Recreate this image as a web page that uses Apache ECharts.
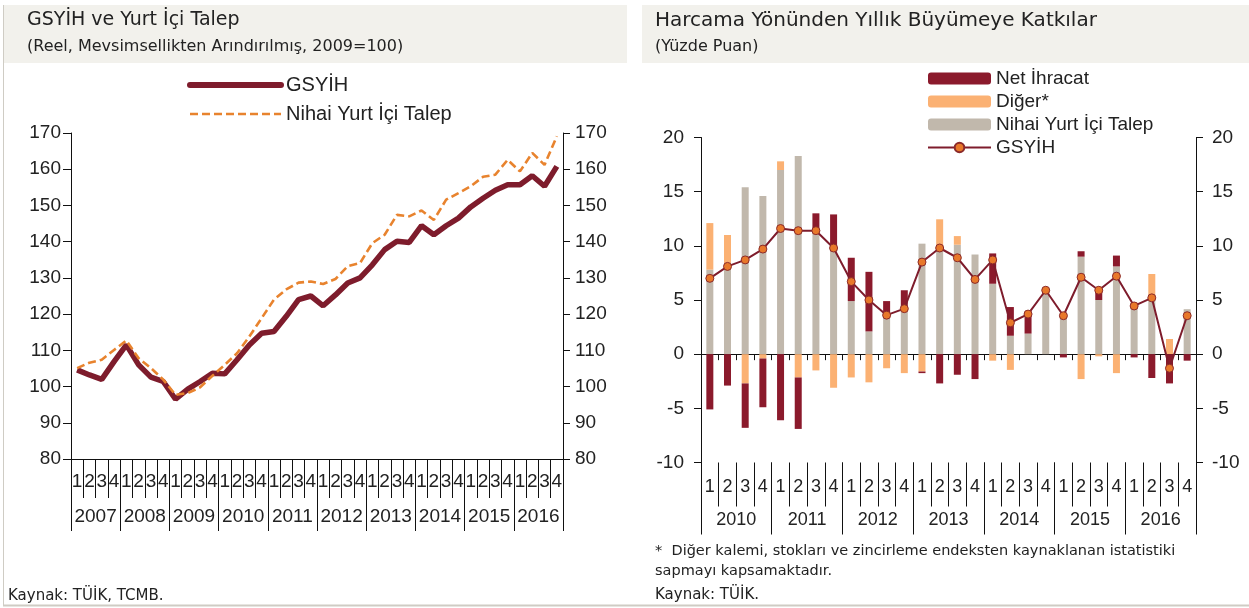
<!DOCTYPE html>
<html><head><meta charset="utf-8">
<script src="https://cdn.jsdelivr.net/npm/echarts@6/dist/echarts.min.js"></script>
<style>html,body{margin:0;padding:0;background:#fff}#c{width:1249px;height:608px}</style>
</head><body><div id="c"></div>
<script>
// ---------- DATA ----------
const leftYears = ['2007','2008','2009','2010','2011','2012','2013','2014','2015','2016'];
const rightYears = ['2010','2011','2012','2013','2014','2015','2016'];
const quarterLabels = ['1','2','3','4'];
const leftYTicks = [80, 170, 10];   // min, max, step
const rightYTicks = [-10, 20, 5];

// Left: real, seasonally adjusted index (2009=100)
const gsyihIndex = [104.6,103.2,102.0,106.9,111.5,106.0,102.6,101.4,96.5,99.3,
  101.4,103.7,103.5,107.4,111.5,114.7,115.2,119.4,124.0,125.0,
  122.3,125.3,128.6,130.0,133.6,137.8,140.1,139.8,144.4,141.9,
  144.4,146.5,149.6,152.0,154.2,155.7,155.7,158.2,155.3,160.8];
const talepIndex = [105.1,106.6,107.4,110.1,112.7,107.8,105.1,101.9,97.7,98.2,
  99.8,103.0,106.0,109.2,113.8,118.9,124.0,126.8,128.7,129.0,
  128.3,129.7,133.2,134.1,139.6,141.9,147.4,147.0,148.6,146.0,
  151.6,153.4,155.3,157.9,158.5,162.6,159.4,164.5,161.2,169.1];

// Right: contributions to annual growth (percentage points)
const talepContrib = [7.8,8.4,15.4,14.6,17.0,18.3,11.5,9.5,4.9,2.1,
  3.8,4.1,10.2,9.9,10.1,9.2,6.5,1.7,1.9,5.9,
  3.8,9.0,5.0,8.1,4.3,5.2,0.0,4.15];
const digerContrib = [4.3,2.6,-2.7,-0.4,0.8,-2.15,-1.5,-3.1,-2.15,-2.6,
  -1.3,-1.75,-1.6,2.55,0.8,0.0,-0.6,-1.45,0.0,0.0,
  0.0,-2.3,-0.2,-1.75,0.45,2.2,1.4,0.0];
const netIhracat = [-5.1,-2.9,-4.1,-4.5,-6.1,-4.75,1.5,3.4,4.0,5.5,
  1.1,1.8,-0.15,-2.7,-1.9,-2.3,2.8,2.65,1.95,0.0,
  -0.3,0.5,1.1,1.0,-0.3,-2.2,-2.7,-0.6];
const gsyihGrowth = [7.0,8.1,8.7,9.7,11.6,11.4,11.4,9.8,6.7,5.0,
  3.6,4.2,8.5,9.8,8.9,6.9,8.7,2.9,3.7,5.9,
  3.55,7.1,5.9,7.2,4.45,5.2,-1.3,3.55];

// ---------- BUILD ----------
function quarters(years){const out=[];years.forEach(y=>quarterLabels.forEach(q=>out.push(y+'-'+q)));return out;}
const leftCats = quarters(leftYears);
const rightCats = quarters(rightYears);
const qFmt = v => v.split('-')[1];

const AX = '#111';
const FONT = 'Liberation Sans, Arial, sans-serif';
const TFONT = 'DejaVu Sans, sans-serif';
const C_RED = '#7e1c2c', C_ORANGE = '#e8832e';
const C_BAR_RED = '#8b1a2c', C_BAR_OR = '#fbb173', C_BAR_GR = '#c1b8ac';

function yAx(grid, pos, t, labelMargin, tickLen){
  return {type:'value', gridIndex:grid, position:pos, min:t[0], max:t[1], interval:t[2],
    axisLine:{show:true, onZero:false, lineStyle:{color:AX,width:1}},
    axisTick:{show:true, length:tickLen, lineStyle:{color:AX}},
    splitLine:{show:false},
    axisLabel:{color:'#222', fontSize:19, fontFamily:FONT, margin:labelMargin}};
}

const chart = echarts.init(document.getElementById('c'), null, {renderer:'canvas'});
chart.setOption({
  animation:false,
  backgroundColor:'#fff',
  graphic:[
    {type:'rect', shape:{x:4,y:5,width:623,height:58}, style:{fill:'#f2f1ec'}, silent:true, z:-10},
    {type:'rect', shape:{x:642,y:5,width:607,height:58}, style:{fill:'#f2f1ec'}, silent:true, z:-10},
    {type:'line', shape:{x1:3.5,y1:5,x2:3.5,y2:605}, style:{stroke:'#cfccc4',lineWidth:1}, silent:true},
    {type:'line', shape:{x1:3,y1:605.5,x2:1249,y2:605.5}, style:{stroke:'#cfccc4',lineWidth:2}, silent:true},
    {type:'text', left:27, top:11, style:{text:'GSYİH ve Yurt İçi Talep', font:'19px '+TFONT, fill:'#222'}},
    {type:'text', left:27, top:39, style:{text:'(Reel, Mevsimsellikten Arındırılmış, 2009=100)', font:'16px '+TFONT, fill:'#222'}},
    {type:'text', left:655, top:11, style:{text:'Harcama Yönünden Yıllık Büyümeye Katkılar', font:'20px '+TFONT, fill:'#222'}},
    {type:'text', left:655, top:39, style:{text:'(Yüzde Puan)', font:'16px '+TFONT, fill:'#222'}},
    {type:'text', left:8, top:589, style:{text:'Kaynak: TÜİK, TCMB.', font:'15px '+TFONT, fill:'#222'}},
    {type:'text', left:655, top:544, style:{text:'*  Diğer kalemi, stokları ve zincirleme endeksten kaynaklanan istatistiki', font:'14.5px '+TFONT, fill:'#222'}},
    {type:'text', left:655, top:564, style:{text:'sapmayı kapsamaktadır.', font:'14.5px '+TFONT, fill:'#222'}},
    {type:'text', left:655, top:588, style:{text:'Kaynak: TÜİK.', font:'15px '+TFONT, fill:'#222'}}
  ],
  legend:[
    {orient:'vertical', left:187, top:75, padding:0, itemWidth:91, itemHeight:14, itemGap:9,
     data:[
       {name:'GSYİH', itemStyle:{opacity:0}, lineStyle:{width:6, cap:'round'}},
       {name:'Nihai Yurt İçi Talep', itemStyle:{opacity:0}, lineStyle:{width:2.7, type:[8,4]}}
     ],
     textStyle:{fontSize:20, fontFamily:FONT, color:'#222'}},
    {orient:'vertical', left:927, top:69, padding:0, itemWidth:63, itemHeight:12, itemGap:4,
     data:['Net İhracat','Diğer*','Nihai Yurt İçi Talep#r','GSYİH#r'],
     formatter:n=>n.replace('#r',''),
     textStyle:{fontSize:19, fontFamily:FONT, color:'#222'}}
  ],
  grid:[
    {left:71, top:133, width:492, height:326, outerBoundsMode:'none', containLabel:false},
    {left:701, top:137.5, width:495, height:325, outerBoundsMode:'none', containLabel:false}
  ],
  xAxis:[
    {type:'category', gridIndex:0, position:'bottom', data:leftCats,
     axisLine:{show:true, onZero:false, lineStyle:{color:AX}},
     axisTick:{show:true, interval:0, length:39, lineStyle:{color:AX}},
     axisLabel:{interval:0, formatter:qFmt, fontSize:19, fontFamily:FONT, color:'#222', margin:13}},
    {type:'category', gridIndex:0, position:'bottom', data:leftYears,
     axisLine:{show:false, onZero:false},
     axisTick:{show:true, interval:0, length:72, lineStyle:{color:AX}},
     axisLabel:{interval:0, fontSize:19, fontFamily:FONT, color:'#222', margin:48}},
    {type:'category', gridIndex:1, data:rightCats,
     axisLine:{show:true, onZero:true, lineStyle:{color:AX}},
     axisTick:{show:true, interval:0, length:6, lineStyle:{color:AX}},
     axisLabel:{show:false}},
    {type:'category', gridIndex:1, position:'bottom', data:rightCats,
     axisLine:{show:false, onZero:false},
     axisTick:{show:true, interval:0, length:44, lineStyle:{color:AX}},
     axisLabel:{interval:0, formatter:qFmt, fontSize:18, fontFamily:FONT, color:'#222', margin:16}},
    {type:'category', gridIndex:1, position:'bottom', data:rightYears,
     axisLine:{show:false, onZero:false},
     axisTick:{show:true, interval:0, length:72, lineStyle:{color:AX}},
     axisLabel:{interval:0, fontSize:18, fontFamily:FONT, color:'#222', margin:49}}
  ],
  yAxis:[
    yAx(0,'left',leftYTicks,10,8),
    yAx(0,'right',leftYTicks,12,7),
    yAx(1,'left',rightYTicks,17,7),
    yAx(1,'right',rightYTicks,16,7)
  ],
  series:[
    {name:'GSYİH', type:'line', xAxisIndex:0, yAxisIndex:0, data:gsyihIndex,
     symbol:'none', color:C_RED, lineStyle:{color:C_RED, width:5.5}, z:2},
    {name:'Nihai Yurt İçi Talep', type:'line', xAxisIndex:0, yAxisIndex:0, data:talepIndex,
     symbol:'none', color:C_ORANGE, lineStyle:{color:C_ORANGE, width:2.6, type:[8,4]}, z:3},

    {name:'Nihai Yurt İçi Talep#r', type:'bar', xAxisIndex:2, yAxisIndex:2, stack:'k', data:talepContrib,
     barWidth:7, color:C_BAR_GR, itemStyle:{color:C_BAR_GR}},
    {name:'Diğer*', type:'bar', xAxisIndex:2, yAxisIndex:2, stack:'k', data:digerContrib,
     barWidth:7, color:C_BAR_OR, itemStyle:{color:C_BAR_OR}},
    {name:'Net İhracat', type:'bar', xAxisIndex:2, yAxisIndex:2, stack:'k', data:netIhracat,
     barWidth:7, color:C_BAR_RED, itemStyle:{color:C_BAR_RED}},
    {name:'GSYİH#r', type:'line', xAxisIndex:2, yAxisIndex:2, data:gsyihGrowth,
     symbol:'circle', symbolSize:8, color:'#e8782a',
     lineStyle:{color:'#7e1c2c', width:2},
     itemStyle:{color:'#e8782a', borderColor:'#8b2a2a', borderWidth:1}, z:5}
  ]
});
</script></body></html>
